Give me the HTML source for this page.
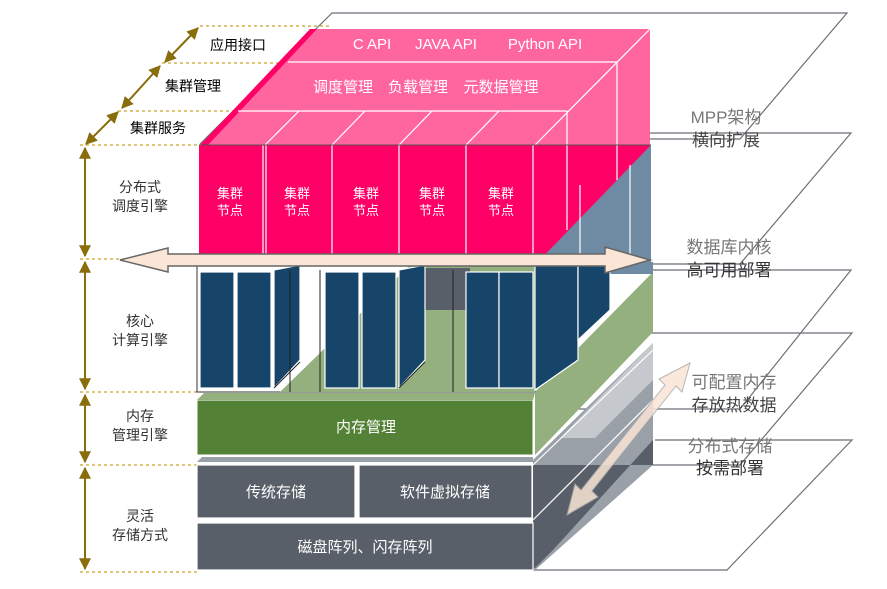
<!DOCTYPE html>
<html><head><meta charset="utf-8"><style>
html,body{margin:0;padding:0;background:#fff;}
svg{display:block;font-family:"Liberation Sans","Noto Sans CJK SC",sans-serif;}
</style></head><body>
<svg width="887" height="589" viewBox="0 0 887 589" xmlns="http://www.w3.org/2000/svg">
<defs>
<marker id="ah" viewBox="0 0 10 10" refX="9" refY="5" markerWidth="6" markerHeight="6" orient="auto-start-reverse"><path d="M0,0 L10,5 L0,10 z" fill="#8a6d0b"/></marker>
</defs>
<!-- planes -->
<g fill="none" stroke="#6b7079" stroke-width="1.2">
<path d="M200,144 L332,13 L847,13 L740,139 L560,139"/>
<path d="M650,133 L851,133 L740,264 L640,264"/>
<path d="M650,270 L851,270 L740,409 L560,409"/>
<path d="M650,333 L852,333 L740,465 L560,465"/>
<path d="M655,440 L852,440 L727,570 L533,570"/>
</g>
<!-- left dashed lines -->
<g stroke="#c9a227" stroke-width="1.2" stroke-dasharray="3,3">
<line x1="200" y1="26" x2="330" y2="26"/>
<line x1="162" y1="63" x2="295" y2="63"/>
<line x1="118" y1="111" x2="245" y2="111"/>
<line x1="80" y1="145" x2="200" y2="145"/>
<line x1="80" y1="259" x2="200" y2="259"/>
<line x1="80" y1="392" x2="200" y2="392"/>
<line x1="80" y1="465" x2="200" y2="465"/>
<line x1="80" y1="572" x2="200" y2="572"/>
</g>
<g stroke="#8a6d0b" stroke-width="2" marker-start="url(#ah)" marker-end="url(#ah)">
<line x1="198" y1="28" x2="165" y2="62"/>
<line x1="160" y1="66" x2="122" y2="108"/>
<line x1="118" y1="112" x2="86" y2="144"/>
<line x1="85" y1="148" x2="85" y2="256"/>
<line x1="85" y1="262" x2="85" y2="389"/>
<line x1="85" y1="395" x2="85" y2="462"/>
<line x1="85" y1="468" x2="85" y2="569"/>
</g>
<g font-size="14" fill="#000" text-anchor="middle">
<text x="238" y="50">应用接口</text>
<text x="193" y="91">集群管理</text>
<text x="158" y="133">集群服务</text>
</g>
<g font-size="14" fill="#333" text-anchor="middle">
<text x="140" y="192">分布式</text><text x="140" y="211">调度引擎</text>
<text x="140" y="326">核心</text><text x="140" y="345">计算引擎</text>
<text x="140" y="421">内存</text><text x="140" y="440">管理引擎</text>
<text x="140" y="521">灵活</text><text x="140" y="540">存储方式</text>
</g>
<!-- pink top -->
<polygon points="317,29 650,29 650,145 200,145" fill="#ff66a0"/>
<polygon points="310,29 317,29 208,145 200,145" fill="#ff0066"/>
<g stroke="#fff" stroke-width="1.2" fill="none">
<line x1="288" y1="62" x2="617" y2="62"/>
<line x1="238" y1="111" x2="567" y2="111"/>
<line x1="650" y1="29" x2="535" y2="145"/>
<line x1="617" y1="62" x2="617" y2="145"/>
<line x1="567" y1="111" x2="567" y2="145"/>
<line x1="299" y1="111" x2="265" y2="145"/><line x1="365" y1="111" x2="332" y2="145"/>
<line x1="432" y1="111" x2="399" y2="145"/><line x1="499" y1="111" x2="466" y2="145"/>
</g>
<g font-size="15" fill="#fff" text-anchor="middle">
<text x="372" y="49">C API</text><text x="446" y="49">JAVA API</text><text x="545" y="49">Python API</text>
<text x="343" y="92">调度管理</text><text x="418" y="92">负载管理</text><text x="501" y="92">元数据管理</text>
</g>
<!-- red front -->
<rect x="199" y="145" width="451" height="115" fill="#ff0066"/>
<polygon points="651,145 651,265 535,265" fill="#6e8ba3"/>
<g stroke="#fff" stroke-width="1.2">
<line x1="263" y1="145" x2="263" y2="260"/><line x1="266" y1="145" x2="266" y2="260"/>
<line x1="332" y1="145" x2="332" y2="260"/><line x1="399" y1="145" x2="399" y2="260"/>
<line x1="466" y1="145" x2="466" y2="260"/><line x1="533" y1="145" x2="533" y2="260"/>
<line x1="567" y1="145" x2="567" y2="230"/><line x1="617" y1="145" x2="617" y2="180"/>
<line x1="580" y1="185" x2="580" y2="265"/><line x1="630" y1="165" x2="630" y2="265"/>
</g>
<line x1="199" y1="145" x2="651" y2="145" stroke="#555" stroke-width="1"/>
<g font-size="13" fill="#fff" text-anchor="middle">
<text x="230" y="198">集群</text><text x="230" y="215">节点</text>
<text x="297" y="198">集群</text><text x="297" y="215">节点</text>
<text x="366" y="198">集群</text><text x="366" y="215">节点</text>
<text x="432" y="198">集群</text><text x="432" y="215">节点</text>
<text x="501" y="198">集群</text><text x="501" y="215">节点</text>
</g>
<!-- compute layer -->
<rect x="197" y="262" width="338" height="130" fill="#fff" stroke="#333"/>
<polygon points="280,392 410,265 535,265 535,392" fill="#95b07f"/>
<polygon points="535,392 653,272 653,332 535,455" fill="#95b07f"/>
<rect x="535" y="262" width="118" height="12" fill="#6e8ba3"/>
<rect x="410" y="268" width="60" height="42" fill="#585f68"/>
<g fill="#174469" stroke="#fff" stroke-width="1.2">
<rect x="200" y="272" width="34" height="116"/><rect x="237" y="272" width="34" height="116"/>
<polygon points="274,270 300,265 300,360 274,388"/>
<rect x="325" y="272" width="34" height="116"/><rect x="362" y="272" width="34" height="116"/>
<polygon points="399,270 425,265 425,360 399,388"/>
<rect x="466" y="272" width="33" height="116"/><rect x="499" y="272" width="34" height="116"/>
<polygon points="535,265 578,265 578,360 535,390"/>
<polygon points="578,265 610,265 610,310 578,340"/>
</g>
<g stroke="#222" stroke-width="1" fill="none">
<path d="M290,392 L290,270"/><path d="M320,392 L320,270"/><path d="M453,392 L453,270"/>
<path d="M274,388 L300,362"/><path d="M399,388 L425,362"/>
</g>
<!-- big horizontal arrow -->
<polygon points="120,260 168,248 168,254 605,254 605,247 650,260 605,273 605,266 168,266 168,272" fill="#fbe5d6" stroke="#666" stroke-width="1.5"/>
<!-- memory -->
<rect x="197" y="400" width="336" height="55" fill="#538135" stroke="#fff"/>
<polygon points="197,400 204,393 535,393 533,400" fill="#95b07f"/>
<text x="366" y="432" font-size="15" fill="#fff" text-anchor="middle">内存管理</text>
<!-- storage side -->
<polygon points="533,460 653,343 653,465 535,570" fill="#9aa0a8"/>
<polygon points="560,438 653,343 653,380 595,438" fill="#c5c8cc"/>
<polygon points="533,465 653,465 653,440 553,550 533,570" fill="#595f69"/>
<polygon points="197,462 202,457 533,457 533,462" fill="#9aa0a8"/>
<g fill="#595f69" stroke="#fff" stroke-width="1.2">
<rect x="197" y="465" width="158" height="53"/><rect x="359" y="465" width="173" height="53"/>
<rect x="197" y="523" width="336" height="47"/>
</g>
<g stroke="#fff" stroke-width="1.2" fill="none">
<line x1="533" y1="465" x2="653" y2="350"/><line x1="533" y1="520" x2="653" y2="400"/>
</g>
<g font-size="15" fill="#fff" text-anchor="middle">
<text x="276" y="497">传统存储</text><text x="445" y="497">软件虚拟存储</text>
<text x="365" y="552">磁盘阵列、闪存阵列</text>
</g>
<!-- diagonal arrow -->
<polygon points="690,363 682,392 676,386 592,491 598,497 567,515 575,484 581,490 665,385 659,379" fill="#fbe5d6" stroke="#aaa" stroke-width="1" opacity="0.85"/>
<!-- right labels -->
<g font-size="17" text-anchor="middle">
<text x="726" y="123" fill="#777">MPP架构</text><text x="726" y="146" fill="#444">横向扩展</text>
<text x="729" y="253" fill="#777">数据库内核</text><text x="729" y="276" fill="#333">高可用部署</text>
<text x="734" y="388" fill="#777">可配置内存</text><text x="734" y="411" fill="#444">存放热数据</text>
<text x="730" y="452" fill="#777">分布式存储</text><text x="730" y="474" fill="#333">按需部署</text>
</g>
</svg>
</body></html>
